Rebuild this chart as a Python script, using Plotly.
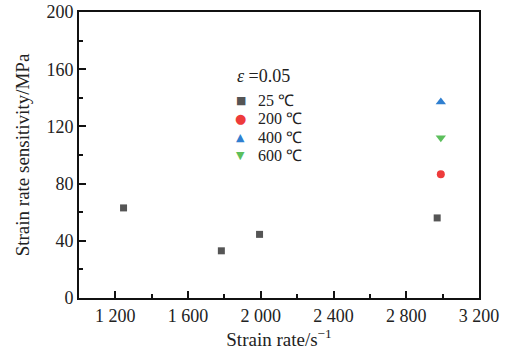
import plotly.graph_objects as go

# Data
series_names = ["25 ℃", "200 ℃", "400 ℃", "600 ℃"]
x_25 = [1245, 1783, 1993, 2970]
y_25 = [63, 33, 44.5, 56]
x_200 = [2990]
y_200 = [86.5]
x_400 = [2990]
y_400 = [137]
x_600 = [2990]
y_600 = [112]
legend_title = "<i>ε</i> =0.05"

x_ticks = [1200, 1600, 2000, 2400, 2800, 3200]
x_ticktext = ["1 200", "1 600", "2 000", "2 400", "2 800", "3 200"]
x_minor = [1400, 1800, 2200, 2600, 3000]
y_ticks = [0, 40, 80, 120, 160, 200]
y_minor = [20, 60, 100, 140, 180]

FONT = "Liberation Serif, Times New Roman, serif"
TXT = "#222222"

fig = go.Figure()
styles = [
    (x_25, y_25, "square", "#555555", 7, "■", 11),
    (x_200, y_200, "circle", "#ee3b3b", 8, "●", 13),
    (x_400, y_400, "triangle-up", "#2f7fd0", 9, "▲", 11),
    (x_600, y_600, "triangle-down", "#5cbf5c", 9, "▼", 11),
]
for name, (xs, ys, sym, col, sz, _g, _gs) in zip(series_names, styles):
    fig.add_trace(go.Scatter(x=xs, y=ys, mode="markers", name=name, showlegend=False,
                             marker=dict(symbol=sym, color=col, size=sz, line=dict(width=0))))

# Manual legend (keys drawn as text glyphs, labels as text)
annotations = [dict(text=legend_title, x=0.392, y=0.776, xref="paper", yref="paper",
                    xanchor="left", yanchor="middle", showarrow=False, borderpad=0,
                    font=dict(family=FONT, size=18, color=TXT))]
row_y = [0.692, 0.627, 0.562, 0.497]
for name, (xs, ys, sym, col, sz, glyph, gsize), ry in zip(series_names, styles, row_y):
    annotations.append(dict(text=glyph, x=0.404, y=ry, xref="paper", yref="paper",
                            xanchor="center", yanchor="middle", showarrow=False,
                            borderpad=0,
                            font=dict(family="DejaVu Sans", size=gsize, color=col)))
    annotations.append(dict(text=name, x=0.446, y=ry, xref="paper", yref="paper",
                            xanchor="left", yanchor="middle", showarrow=False,
                            borderpad=0,
                            font=dict(family=FONT, size=16, color=TXT)))

axis_common = dict(
    showline=True, linecolor="#111111", linewidth=2, mirror=True,
    ticks="inside", ticklen=7, tickwidth=2, tickcolor="#111111",
    showgrid=False, zeroline=False, automargin=False,
    tickfont=dict(family=FONT, size=18, color=TXT),
)

fig.update_layout(
    width=516, height=351,
    margin=dict(l=79, r=37, t=12, b=53),
    paper_bgcolor="white", plot_bgcolor="white",
    font=dict(family=FONT, size=16, color=TXT),
    xaxis=dict(range=[1000, 3200], tickvals=x_ticks, ticktext=x_ticktext,
               minor=dict(tickvals=x_minor, ticks="inside", ticklen=4, tickwidth=2, tickcolor="#111111"),
               title=dict(text="Strain rate/s<sup>−1</sup>", font=dict(family=FONT, size=19, color=TXT), standoff=6),
               **axis_common),
    yaxis=dict(range=[0, 200], tickvals=y_ticks,
               minor=dict(tickvals=y_minor, ticks="inside", ticklen=4, tickwidth=2, tickcolor="#111111"),
               title=dict(text="Strain rate sensitivity/MPa", font=dict(family=FONT, size=19, color=TXT), standoff=12),
               **axis_common),
    annotations=annotations,
    showlegend=False,
)

fig.write_html("out.html")
